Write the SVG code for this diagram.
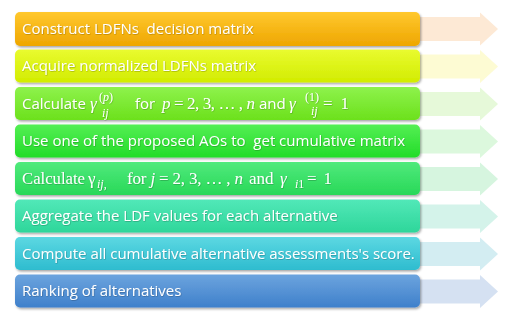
<svg xmlns="http://www.w3.org/2000/svg" width="510" height="320" viewBox="0 0 510 320">
<defs>
<style>
.bar{filter:url(#sh)}
.t{font-family:"Open Sans","Liberation Sans",sans-serif;font-size:15px;fill:#fff;filter:url(#ts)}
.m{font-family:"Liberation Serif","DejaVu Serif",serif;font-size:17px;fill:#fff;filter:url(#ts)}
.s{font-size:12px}
.i{font-style:italic}
</style>
<filter id="sh" x="-5%" y="-20%" width="110%" height="150%"><feDropShadow dx="1.2" dy="1.6" stdDeviation="1" flood-color="#000" flood-opacity="0.35"/></filter>
<filter id="ts" x="-5%" y="-30%" width="110%" height="160%"><feDropShadow dx="0.5" dy="0.6" stdDeviation="0.4" flood-color="#000" flood-opacity="0.3"/></filter>
<linearGradient id="g1" x1="0" y1="0" x2="0" y2="1"><stop offset="0" stop-color="#ffc82e"/><stop offset="1" stop-color="#eea600"/></linearGradient>
<linearGradient id="g2" x1="0" y1="0" x2="0" y2="1"><stop offset="0" stop-color="#e9fb30"/><stop offset="1" stop-color="#d2ec00"/></linearGradient>
<linearGradient id="g3" x1="0" y1="0" x2="0" y2="1"><stop offset="0" stop-color="#8ef24c"/><stop offset="1" stop-color="#6ce11c"/></linearGradient>
<linearGradient id="g4" x1="0" y1="0" x2="0" y2="1"><stop offset="0" stop-color="#54ef54"/><stop offset="1" stop-color="#22dc28"/></linearGradient>
<linearGradient id="g5" x1="0" y1="0" x2="0" y2="1"><stop offset="0" stop-color="#50ea7c"/><stop offset="1" stop-color="#28d858"/></linearGradient>
<linearGradient id="g6" x1="0" y1="0" x2="0" y2="1"><stop offset="0" stop-color="#52e8b8"/><stop offset="1" stop-color="#2ed69a"/></linearGradient>
<linearGradient id="g7" x1="0" y1="0" x2="0" y2="1"><stop offset="0" stop-color="#5cd8e2"/><stop offset="1" stop-color="#2ebccf"/></linearGradient>
<linearGradient id="g8" x1="0" y1="0" x2="0" y2="1"><stop offset="0" stop-color="#6ca4de"/><stop offset="1" stop-color="#3f80cb"/></linearGradient>
</defs>
<rect width="510" height="320" fill="#fff"/>
<g id="arrows">
<path d="M410 17H480V12.5L498 29L480 45.5V41H410Z" fill="#fde9d5"/>
<path d="M410 54.5H480V50L498 66.5L480 83V78.5H410Z" fill="#fdfbd3"/>
<path d="M410 92H480V87.5L498 104L480 120.5V116H410Z" fill="#e6f9d9"/>
<path d="M410 129.5H480V125L498 141.5L480 158V153.5H410Z" fill="#dcf8dd"/>
<path d="M410 167H480V162.5L498 179L480 195.5V191H410Z" fill="#d6f5df"/>
<path d="M410 204.5H480V200L498 216.5L480 233V228.5H410Z" fill="#d4f3ea"/>
<path d="M410 242H480V237.5L498 254L480 270.5V266H410Z" fill="#d3edf2"/>
<path d="M410 279.5H480V275L498 291.5L480 308V303.5H410Z" fill="#d5e1f2"/>
</g>
<g id="step1"><rect class="bar" x="15" y="12" width="405" height="34" rx="5" fill="url(#g1)"/><text class="t" x="22" y="34" xml:space="preserve">Construct LDFNs  decision matrix</text></g>
<g id="step2"><rect class="bar" x="15" y="49.5" width="405" height="33" rx="5" fill="url(#g2)"/><text class="t" x="22" y="71">Acquire normalized LDFNs matrix</text></g>
<g id="step3"><rect class="bar" x="15" y="87" width="405" height="33" rx="5" fill="url(#g3)"/>
<text class="t" x="22" y="109">Calculate</text>
<text class="m i" x="90" y="109">γ</text>
<text class="m s" x="99" y="101">(<tspan class="i">p</tspan>)</text>
<text class="m s i" x="102" y="117">ij</text>
<text class="t" x="135" y="109">for</text>
<text class="m" x="162" y="109" textLength="93" lengthAdjust="spacing"><tspan class="i">p</tspan> = 2, 3, … , <tspan class="i">n</tspan></text>
<text class="t" x="259" y="109">and</text>
<text class="m i" x="289" y="109">γ</text>
<text class="m s" x="305" y="101">(1)</text>
<text class="m s i" x="311" y="115">ij</text>
<text class="m" x="323" y="109" textLength="26" lengthAdjust="spacing">= 1</text>
</g>
<g id="step4"><rect class="bar" x="15" y="124.5" width="405" height="33" rx="5" fill="url(#g4)"/><text class="t" x="22" y="146" xml:space="preserve">Use one of the proposed AOs to  get cumulative matrix</text></g>
<g id="step5"><rect class="bar" x="15" y="162" width="405" height="33" rx="5" fill="url(#g5)"/>
<text class="m" x="22" y="184" textLength="63" lengthAdjust="spacingAndGlyphs">Calculate</text>
<text class="m" x="88" y="184">γ</text>
<text class="m s" x="97" y="188"><tspan class="i">ij</tspan>,</text>
<text class="m" x="127" y="184" textLength="116" lengthAdjust="spacing">for <tspan class="i">j</tspan> = 2, 3, … , <tspan class="i">n</tspan></text>
<text class="m" x="249" y="184">and</text>
<text class="m i" x="280" y="184">γ</text>
<text class="m s" x="295" y="188"><tspan class="i">i</tspan>1</text>
<text class="m" x="307" y="184" textLength="25" lengthAdjust="spacing">= 1</text>
</g>
<g id="step6"><rect class="bar" x="15" y="199.5" width="405" height="33" rx="5" fill="url(#g6)"/><text class="t" x="22" y="221">Aggregate the LDF values for each alternative</text></g>
<g id="step7"><rect class="bar" x="15" y="237" width="405" height="33" rx="5" fill="url(#g7)"/><text class="t" x="22" y="259">Compute all cumulative alternative assessments's score.</text></g>
<g id="step8"><rect class="bar" x="15" y="274.5" width="405" height="33" rx="5" fill="url(#g8)"/><text class="t" x="22" y="296">Ranking of alternatives</text></g>
</svg>
